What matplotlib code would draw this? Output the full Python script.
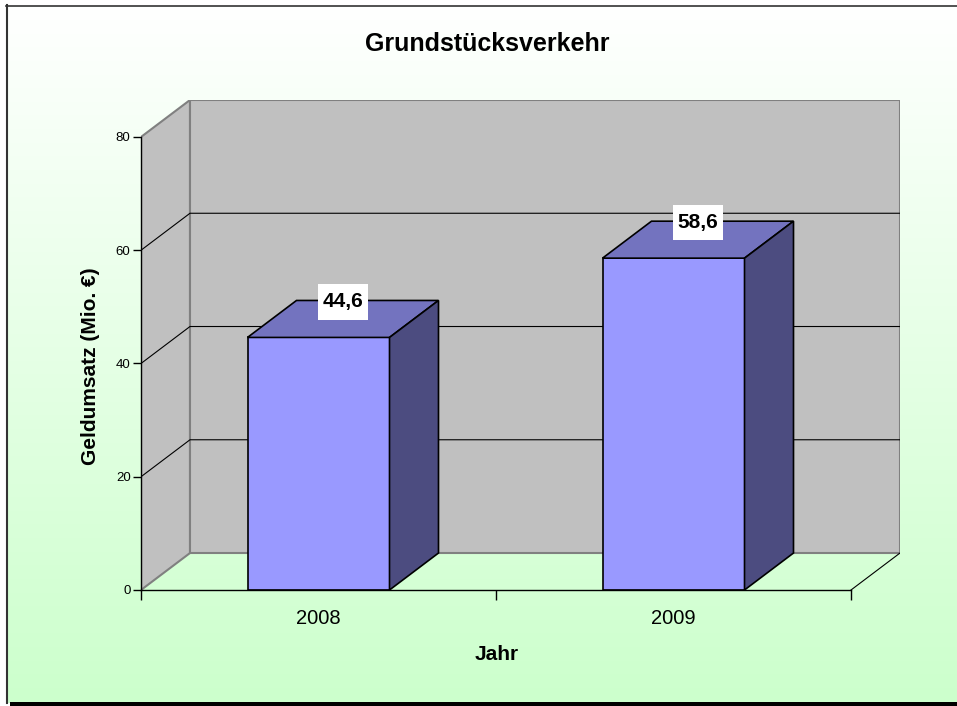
import numpy as np
from matplotlib import pyplot as plt
from matplotlib.patches import Polygon, Rectangle

plt.rcParams['font.family'] = ['Liberation Sans', 'DejaVu Sans']

# chart data
years = ['2008', '2009']
umsatz = [44.6, 58.6]
umsatz_labels = ['44,6', '58,6']
y_ticks = [0, 20, 40, 60, 80]

title = 'Grundstücksverkehr'
x_title = 'Jahr'
y_title = 'Geldumsatz (Mio. €)'

W, H = 957, 706
fig = plt.figure(figsize=(W / 100, H / 100), dpi=100)

# background with white-to-green gradient and frame
bg = fig.add_axes([0, 0, 1, 1], zorder=-10)
bg.set_xlim(0, W)
bg.set_ylim(H, 0)
bg.axis('off')
grad = np.linspace(0, 1, 256)[:, None]
top_col = np.array([1.0, 1.0, 1.0])
bot_col = np.array([0.8, 1.0, 0.8])
img = top_col[None, None, :] * (1 - grad[..., None]) + bot_col[None, None, :] * grad[..., None]
bg.imshow(img, extent=[6, W, 703, 5], aspect='auto', interpolation='bilinear')
bg.plot([6, W], [5.5, 5.5], color='#333333', lw=1.2)
bg.plot([6.5, 6.5], [5, 703], color='#333333', lw=1.5)
bg.add_patch(Rectangle((10, 702), W - 10, 4, color='black', lw=0))

# main 3d-looking plot area
left, right, bottom, top = 141, 900, 590, 100
ax = fig.add_axes([left / W, 1 - bottom / H, (right - left) / W, (bottom - top) / H])
ax.patch.set_alpha(0)

ymax = 80
dx = 0.138          # depth offset in category units
dy = 6.53           # depth offset in value units
ncat = len(years)
ax.set_xlim(0, ncat + dx)
ax.set_ylim(0, ymax + dy)

wall = '#C0C0C0'
wall_edge = '#808080'
# side wall
ax.add_patch(Polygon([(0, 0), (0, ymax), (dx, ymax + dy), (dx, dy)],
                     closed=True, facecolor=wall, edgecolor=wall_edge, lw=1.5, zorder=1))
# back wall
ax.add_patch(Rectangle((dx, dy), ncat, ymax, facecolor=wall, edgecolor=wall_edge, lw=1.5, zorder=1))
# gridlines
for v in y_ticks[1:-1]:
    ax.plot([0, dx, ncat + dx], [v, v + dy, v + dy], color='black', lw=0.8, zorder=2)
# floor right edge
ax.plot([ncat, ncat + dx], [0, dy], color='black', lw=0.8, zorder=2)

# bars
bw = 0.4
xs = np.arange(ncat) + 0.5
ax.bar(xs, umsatz, width=bw, color='#9999FF', edgecolor='black', lw=1.2, zorder=3)
for x, v, lab in zip(xs, umsatz, umsatz_labels):
    x0, x1 = x - bw / 2, x + bw / 2
    ax.add_patch(Polygon([(x0, v), (x1, v), (x1 + dx, v + dy), (x0 + dx, v + dy)],
                         closed=True, facecolor='#7373BF', edgecolor='black', lw=1.2, zorder=3))
    ax.add_patch(Polygon([(x1, 0), (x1 + dx, dy), (x1 + dx, v + dy), (x1, v)],
                         closed=True, facecolor='#4C4C80', edgecolor='black', lw=1.2, zorder=3))
    ax.annotate(lab, (x + dx / 2, v + dy / 2), xytext=(0, 12.3), textcoords='offset points',
                ha='center', va='center', fontsize=15, fontweight='bold', zorder=5,
                bbox=dict(boxstyle='square,pad=0.2', facecolor='white', edgecolor='none',
                          mutation_aspect=2.0))

# axes
for s in ['top', 'right']:
    ax.spines[s].set_visible(False)
ax.spines['left'].set_bounds(0, ymax)
ax.spines['bottom'].set_bounds(0, ncat)
for s in ['left', 'bottom']:
    ax.spines[s].set_zorder(4)
    ax.spines[s].set_linewidth(1.0)
ax.set_yticks(y_ticks)
ax.tick_params(axis='y', direction='out', length=6, width=1, labelsize=9.5, pad=1.5)
ax.set_xticks(np.arange(ncat + 1))
ax.set_xticklabels([])
ax.set_xticks(xs, minor=True)
ax.set_xticklabels(years, minor=True)
ax.tick_params(axis='x', which='major', direction='out', length=7, width=1)
ax.tick_params(axis='x', which='minor', length=0, labelsize=14.5, pad=14)

fig.text(487 / W, 1 - 44 / H, title, ha='center', va='center', fontsize=18, fontweight='bold')
fig.text(497 / W, 1 - 655 / H, x_title, ha='center', va='center', fontsize=15, fontweight='bold')
fig.text(90 / W, 1 - 366 / H, y_title, ha='center', va='center', rotation=90,
         fontsize=15, fontweight='bold')

plt.savefig('out.png', dpi=100)
